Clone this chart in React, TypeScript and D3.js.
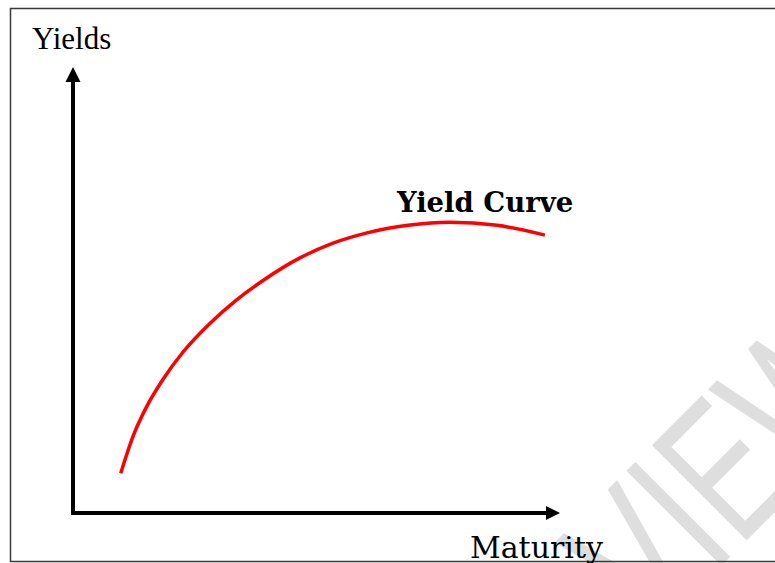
import React, { useEffect, useRef } from 'react'
import * as d3 from 'd3'

// curve (axis units 0..100)
const maturity = [9.8, 12.4, 15.1, 18.5, 22.6, 28.1, 33.6, 39.1, 46.6, 53.4, 60.4, 68.8, 77.4, 87.1, 96.9]
const yields = [8.9, 17.4, 23.8, 30.0, 36.1, 42.5, 47.8, 52.2, 57.2, 60.5, 62.8, 64.5, 65.2, 64.5, 62.3]
const xLabel = 'Maturity'
const yLabel = 'Yields'
const curveLabel = 'Yield Curve'
const watermark = 'VIEW'

export default function App() {
  const svgRef = useRef<SVGSVGElement | null>(null)

  useEffect(() => {
    const W = 775, H = 563
    const svg = d3.select(svgRef.current).attr('width', W).attr('height', H).attr('viewBox', `0 0 ${W} ${H}`)
    svg.selectAll('*').remove()

    const x = d3.scaleLinear().domain([0, 100]).range([73, 560])
    const y = d3.scaleLinear().domain([0, 100]).range([513, 67])

    // watermark
    svg.append('g').attr('transform', 'translate(649,638) rotate(-45) scale(0.69,1)')
      .append('text').attr('x', 0).attr('y', 0)
      .attr('font-family', 'Liberation Sans, Arial, sans-serif').attr('font-size', 195)
      .attr('fill', '#dedede')
      .text(watermark)

    // frame
    svg.append('rect').attr('x', 10.5).attr('y', 8.5).attr('width', 800).attr('height', 553)
      .attr('fill', 'none').attr('stroke', '#3a3a3a').attr('stroke-width', 1.5)

    // axes
    const ax = svg.append('g').attr('stroke', '#000').attr('stroke-width', 4)
    ax.append('line').attr('x1', x(0)).attr('y1', y(0) + 2).attr('x2', x(0)).attr('y2', y(100) + 12)
    ax.append('line').attr('x1', x(0) - 2).attr('y1', y(0)).attr('x2', x(100) - 12).attr('y2', y(0))
    svg.append('path').attr('fill', '#000')
      .attr('d', `M${x(0)},${y(100)} L${x(0) - 7.5},${y(100) + 15} L${x(0) + 7.5},${y(100) + 15} Z`)
    svg.append('path').attr('fill', '#000')
      .attr('d', `M${x(100)},${y(0)} L${x(100) - 14},${y(0) - 7} L${x(100) - 14},${y(0) + 7} Z`)

    // yield curve
    const pts: [number, number][] = maturity.map((m, i) => [m, yields[i]])
    const line = d3.line<[number, number]>().x(d => x(d[0])).y(d => y(d[1])).curve(d3.curveMonotoneX)
    svg.append('path').datum(pts).attr('d', line).attr('fill', 'none')
      .attr('stroke', '#ff0000').attr('stroke-width', 3.5)

    // labels
    svg.append('text').attr('x', 32).attr('y', 49)
      .attr('font-family', 'Liberation Serif, Times New Roman, serif').attr('font-size', 31)
      .text(yLabel)
    svg.append('text').attr('x', 397).attr('y', 212)
      .attr('font-family', 'DejaVu Serif, serif').attr('font-weight', 'bold').attr('font-size', 27.5)
      .text(curveLabel)
    svg.append('text').attr('x', 470).attr('y', 558)
      .attr('font-family', 'DejaVu Serif, serif').attr('font-size', 30)
      .text(xLabel)
  }, [])

  return (
    <div style={{ position: 'absolute', left: 0, top: 0, width: 775, height: 563, overflow: 'hidden', background: '#fff' }}>
      <svg ref={svgRef} style={{ display: 'block' }}></svg>
    </div>
  )
}
